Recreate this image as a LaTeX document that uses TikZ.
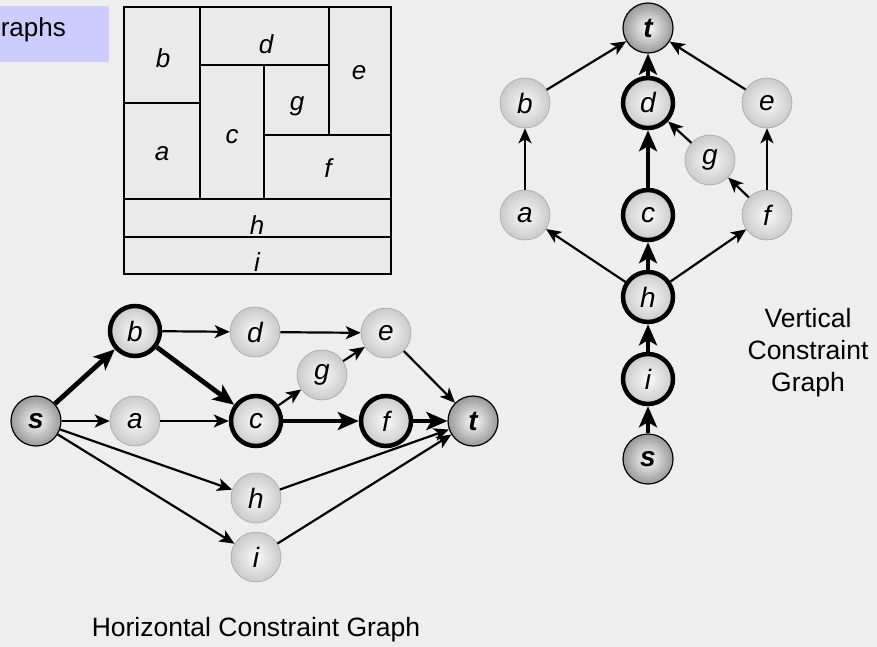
\documentclass[tikz,border=0pt]{standalone}
\usepackage{fontspec}
\setmainfont{Liberation Sans}
\usetikzlibrary{arrows.meta}
\definecolor{bgcol}{HTML}{EEEEEE}
\definecolor{titlecol}{HTML}{CCCCFF}
\definecolor{planfill}{HTML}{EAEAEA}
\begin{document}
\begin{tikzpicture}[
    x=1pt, y=-1pt,
    vtx/.style={circle, draw=gray!70, line width=0.6pt, minimum size=50pt, inner sep=0pt,
        shading=radial, inner color=gray!4, outer color=gray!42,
        font=\fontsize{28}{28}\selectfont\itshape},
    term/.style={vtx, draw=black, line width=1.2pt, outer color=gray!80,
        font=\fontsize{28}{28}\selectfont\bfseries\itshape},
    crit/.style={vtx, draw=black, line width=4.5pt},
    ed/.style={-{Stealth[length=15pt, width=13pt, inset=4pt]}, line width=2.2pt},
    cp/.style={-{Stealth[length=21pt, width=18pt, inset=5pt]}, line width=4.8pt},
    room/.style={font=\fontsize{26}{26}\selectfont\itshape},
    caption/.style={font=\fontsize{26.5}{32}\selectfont, align=center}
]
\fill[bgcol] (0,0) rectangle (877,647);
\useasboundingbox (0,0) rectangle (877,647);

% heading tab
\fill[titlecol] (-1,6) rectangle (109,62);
\node[anchor=base east, inner sep=0pt, font=\fontsize{26}{26}\selectfont] (ttl) at (66,37) {raphs};

% floorplan
\draw[line width=2.5pt, fill=planfill] (124,7) rectangle (391,274);
\draw[line width=2pt]
    (124,103) -- (200,103)
    (200,7) -- (200,199)
    (200,65) -- (329,65)
    (329,7) -- (329,135)
    (264,65) -- (264,199)
    (264,135) -- (391,135)
    (124,237) -- (391,237);
\draw[line width=2.5pt] (124,199) -- (391,199);
\node[room] (mb) at (163,58) {b};
\node[room] (md) at (266,44) {d};
\node[room] (me) at (359,73) {e};
\node[room] (mg) at (297,106) {g};
\node[room] (mc) at (232,137) {c};
\node[room] (ma) at (162,154) {a};
\node[room] (mf) at (328,168) {f};
\node[room] (mh) at (257,225) {h};
\node[room] (mi) at (257,262) {i};

% horizontal constraint graph
\node[term] (hs) at (36,421) {s};
\node[crit] (hb) at (135,331) {b};
\node[vtx]  (ha) at (135,421) {a};
\node[vtx]  (hd) at (255,332) {d};
\node[crit] (hc) at (256,421) {c};
\node[vtx]  (hg) at (322,375) {g};
\node[vtx]  (he) at (386,333) {e};
\node[crit] (hf) at (386,421) {f};
\node[term] (ht) at (473,421) {t};
\node[vtx]  (hh) at (256,498) {h};
\node[vtx]  (hi) at (256,557) {i};

\draw[cp] (hs) -- (hb);
\draw[cp] (hb) -- (hc);
\draw[cp] (hc) -- (hf);
\draw[cp] (hf) -- (ht);
\draw[ed] (hs) -- (ha);
\draw[ed] (hs) -- (hh);
\draw[ed] (hs) -- (hi);
\draw[ed] (hb) -- (hd);
\draw[ed] (ha) -- (hc);
\draw[ed] (hd) -- (he);
\draw[ed] (hc) -- (hg);
\draw[ed] (hg) -- (he);
\draw[ed] (he) -- (ht);
\draw[ed] (hh) -- (ht);
\draw[ed] (hi) -- (ht);

\node[caption] (hcap) at (256,630) {Horizontal Constraint Graph};

% vertical constraint graph
\node[term] (vt) at (648,28) {t};
\node[vtx]  (vb) at (525,103) {b};
\node[crit] (vd) at (648,103) {d};
\node[vtx]  (ve) at (767,103) {e};
\node[vtx]  (vg) at (710,160) {g};
\node[vtx]  (va) at (525,215) {a};
\node[crit] (vc) at (648,215) {c};
\node[vtx]  (vf) at (767,215) {f};
\node[crit] (vh) at (648,297) {h};
\node[crit] (vi) at (648,379) {i};
\node[term] (vs) at (648,459) {s};

\draw[cp] (vs) -- (vi);
\draw[cp] (vi) -- (vh);
\draw[cp] (vh) -- (vc);
\draw[cp] (vc) -- (vd);
\draw[cp] (vd) -- (vt);
\draw[ed] (vh) -- (va);
\draw[ed] (vh) -- (vf);
\draw[ed] (va) -- (vb);
\draw[ed] (vf) -- (vg);
\draw[ed] (vf) -- (ve);
\draw[ed] (vg) -- (vd);
\draw[ed] (vb) -- (vt);
\draw[ed] (ve) -- (vt);

\node[caption] (vcap) at (808,353) {Vertical\\Constraint\\Graph};
\end{tikzpicture}
\end{document}
